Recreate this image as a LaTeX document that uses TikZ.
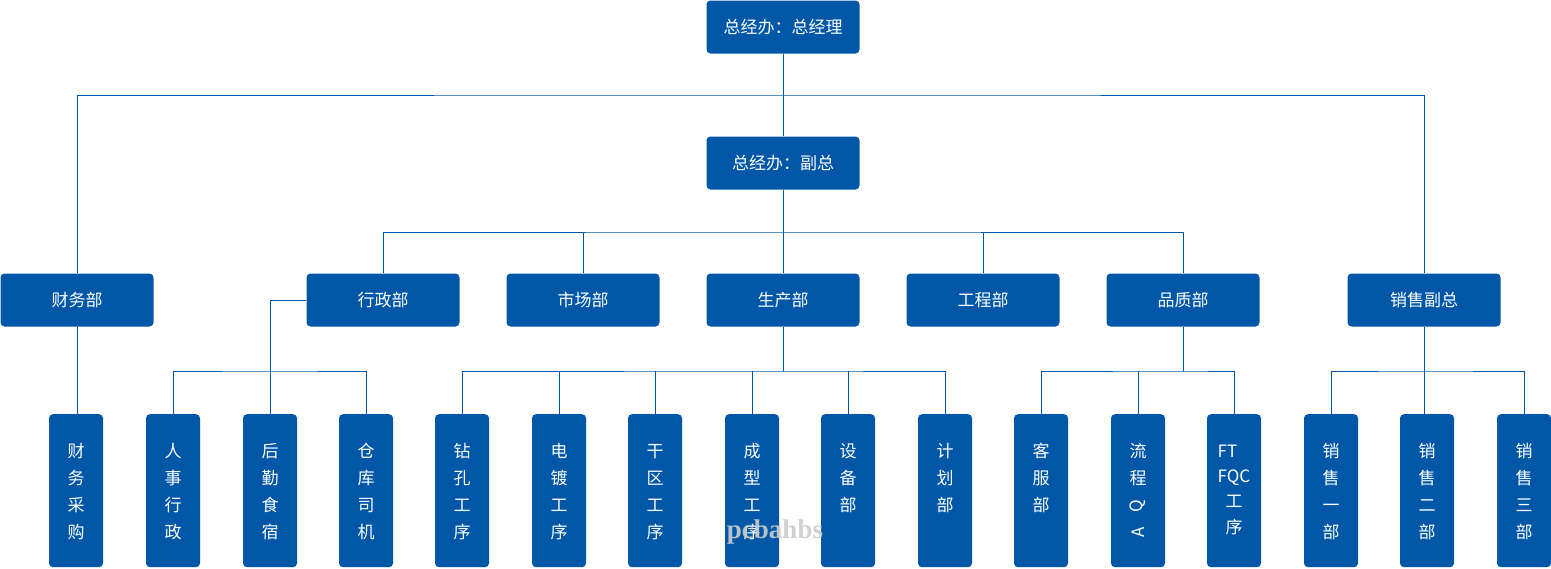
\documentclass[tikz,border=0pt]{standalone}
\usepackage{fontspec}
\setmainfont{Noto Sans CJK SC}
\newfontfamily\wmfont{Liberation Serif}
\usetikzlibrary{positioning}
\definecolor{orgblue}{RGB}{0,87,168}

\begin{document}
\begin{tikzpicture}[x=1pt,y=-1pt,
  unit/.style={fill=orgblue,text=white,rounded corners=4pt,inner sep=0pt,minimum width=153pt,minimum height=53pt,font=\fontsize{17}{20}\selectfont},
  leaf/.style={fill=orgblue,text=white,rounded corners=4pt,inner sep=0pt,anchor=north,align=center,text width=54pt,text height=43pt,text depth=110pt,font=\fontsize{17}{27}\selectfont},
  link/.style={draw=orgblue,line width=1pt}]
\useasboundingbox (0,0) rectangle (1551,568);
% top levels
\node[unit] (gm) at (783,27) {总经办：总经理};
\node[unit] (vp) at (783,163) {总经办：副总};
\node[unit] (cw) at (77,300) {财务部};
\node[unit] (xz) at (383,300) {行政部};
\node[unit] (sc) at (583,300) {市场部};
\node[unit] (scb) at (783,300) {生产部};
\node[unit] (gc) at (983,300) {工程部};
\node[unit] (pz) at (1183,300) {品质部};
\node[unit] (xs) at (1424,300) {销售副总};
% leaves
\node[leaf] (cwcg) at (76,414) {财\\务\\采\\购};
\node[leaf] (rs) at (173,414) {人\\事\\行\\政};
\node[leaf] (hq) at (270,414) {后\\勤\\食\\宿};
\node[leaf] (ck) at (366,414) {仓\\库\\司\\机};
\node[leaf] (zk) at (462,414) {钻\\孔\\工\\序};
\node[leaf] (dd) at (559,414) {电\\镀\\工\\序};
\node[leaf] (gq) at (655,414) {干\\区\\工\\序};
\node[leaf] (cx) at (752,414) {成\\型\\工\\序};
\node[leaf] (sb) at (848,414) {设\\备\\部};
\node[leaf] (jh) at (945,414) {计\\划\\部};
\node[leaf] (kf) at (1041,414) {客\\服\\部};
\node[leaf] (lc) at (1138,414) {流\\程\\\rotatebox[origin=c]{90}{Q}\\\rotatebox[origin=c]{90}{A}};
\node[leaf,font=\fontsize{17}{25.3}\selectfont] (fqc) at (1234,414) {\rlap{FT}\phantom{FQC}\\FQC\\工\\序};
\node[leaf] (xs1) at (1331,414) {销\\售\\一\\部};
\node[leaf] (xs2) at (1427,414) {销\\售\\二\\部};
\node[leaf] (xs3) at (1524,414) {销\\售\\三\\部};
% bus points
\coordinate (topbus) at (783,95);
\coordinate (vpbus) at (783,232);
\coordinate (xzbus) at (270,371);
\coordinate (scbus) at (783,371);
\coordinate (pzbus) at (1183,371);
\coordinate (xsbus) at (1424,371);
% connectors
\draw[link] (gm) -- (vp);
\draw[link] (cw.north) |- (topbus) -| (xs.north);
\draw[link] (vp) -- (scb);
\draw[link] (xz.north) |- (vpbus) -| (pz.north);
\draw[link] (sc.north) -- (sc.north |- vpbus);
\draw[link] (gc.north) -- (gc.north |- vpbus);
\draw[link] (cw) -- (cw.south |- cwcg.north);
\draw[link] (xz.west) -| (hq.north);
\draw[link] (rs.north) |- (xzbus) -| (ck.north);
\draw[link] (scb) -- (scbus);
\draw[link] (zk.north) |- (scbus) -| (jh.north);
\draw[link] (dd.north) -- (dd.north |- scbus);
\draw[link] (gq.north) -- (gq.north |- scbus);
\draw[link] (cx.north) -- (cx.north |- scbus);
\draw[link] (sb.north) -- (sb.north |- scbus);
\draw[link] (pz) -- (pzbus);
\draw[link] (kf.north) |- (pzbus) -| (fqc.north);
\draw[link] (lc.north) -- (lc.north |- pzbus);
\draw[link] (xs) -- (xs.south |- xs2.north);
\draw[link] (xs1.north) |- (xsbus) -| (xs3.north);
% watermark
\node[text=gray!40,opacity=.9,font=\wmfont\bfseries\fontsize{27}{27}\selectfont] (wm) at (775,532) {pcbahbs};
\end{tikzpicture}
\end{document}
